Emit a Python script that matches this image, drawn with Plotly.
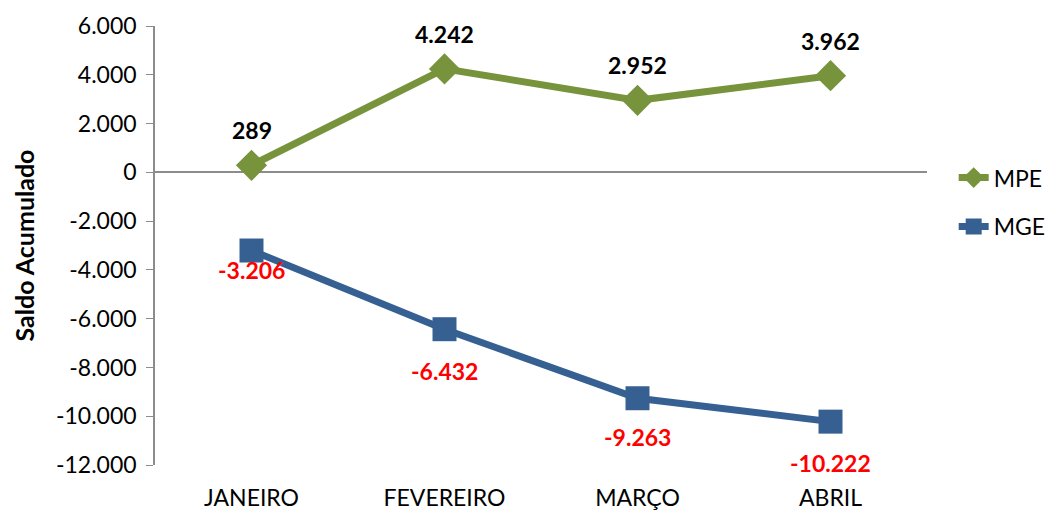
import plotly.graph_objects as go

categories = ["JANEIRO", "FEVEREIRO", "MARÇO", "ABRIL"]
mpe = [289, 4242, 2952, 3962]
mge = [-3206, -6432, -9263, -10222]
y_ticks = [6000, 4000, 2000, 0, -2000, -4000, -6000, -8000, -10000, -12000]

def fmt(v):
    s = f"{abs(v):,}".replace(",", ".")
    return ("-" if v < 0 else "") + s

GREEN = "#77933C"
BLUE = "#376092"
FONT = "Lato"

fig = go.Figure()
fig.add_trace(go.Scatter(
    x=categories, y=mpe, name="MPE", mode="lines+markers", legendgroup="a",
    line=dict(color=GREEN, width=7),
    marker=dict(symbol="diamond", size=24, color=GREEN),
))
fig.add_trace(go.Scatter(
    x=categories, y=mge, name="MGE", mode="lines+markers", legendgroup="b",
    line=dict(color=BLUE, width=7),
    marker=dict(symbol="square", size=24, color=BLUE),
))

mge_shift = [-19, -42, -39, -41]
for c, v in zip(categories, mpe):
    fig.add_annotation(x=c, y=v, text=f"<b>{fmt(v)}</b>", showarrow=False,
                       yshift=35, font=dict(family=FONT, size=23, color="black"))
for c, v, s in zip(categories, mge, mge_shift):
    fig.add_annotation(x=c, y=v, text=f"<b>{fmt(v)}</b>", showarrow=False,
                       yshift=s, font=dict(family=FONT, size=23, color="#FF0000"))

fig.update_layout(
    width=1048, height=512,
    margin=dict(l=155, r=121, t=26, b=47),
    paper_bgcolor="white", plot_bgcolor="white",
    font=dict(family=FONT, size=23, color="black"),
    showlegend=True,
    legend=dict(xref="container", yref="container", x=0.91, xanchor="left",
                y=0.695, yanchor="top", traceorder="grouped",
                font=dict(family=FONT, size=23), tracegroupgap=16,
                bgcolor="rgba(0,0,0,0)"),
    xaxis=dict(showline=False, showgrid=False, zeroline=False, automargin=False,
               ticks="outside", ticklen=12, tickcolor="rgba(0,0,0,0)",
               range=[-0.5, 3.5], tickfont=dict(size=23)),
    yaxis=dict(range=[-12000, 6000], tickvals=y_ticks, automargin=False,
               ticktext=[fmt(v) for v in y_ticks], tickfont=dict(size=23),
               ticklabelstandoff=5,
               showgrid=False, showline=True, linecolor="#8C8C8C", linewidth=1.5,
               ticks="outside", ticklen=7, tickcolor="#8C8C8C",
               zeroline=True, zerolinecolor="#8C8C8C", zerolinewidth=1.5,
               title=dict(text="<b>Saldo Acumulado</b>", font=dict(size=25), standoff=14)),
)

fig.write_html("out.html", config={"displayModeBar": False},
               post_script="document.body.style.margin='0';document.body.style.overflow='hidden';")
